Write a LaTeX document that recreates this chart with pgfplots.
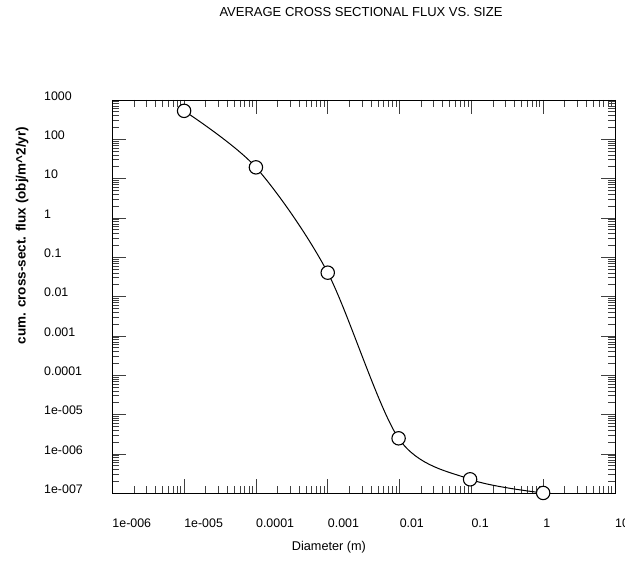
\documentclass[border=0pt]{standalone}
\usepackage{pgfplots}
\pgfplotsset{compat=1.18}
\usepackage{fontspec}
\setmainfont{Liberation Sans}
\begin{document}
\begin{tikzpicture}
\begin{axis}[
  scale only axis, width=502.7pt, height=393.3pt,
  xmode=log, ymode=log,
  xmin=1e-6, xmax=10, ymin=1e-7, ymax=1000,
  clip=false,
  axis line style={black, line width=0.9pt},
  tick style={black!75, line width=0.8pt},
  tick align=inside,
  xtick pos=both, ytick pos=both,
  xticklabel pos=lower, yticklabel pos=left,
  major tick length=14pt, minor tick length=7pt,
  xtick={1e-6,1e-5,1e-4,1e-3,1e-2,1e-1,1,10},
  xticklabels={1e-006,1e-005,0.0001,0.001,0.01,0.1,1,10},
  ytick={1e-7,1e-6,1e-5,1e-4,1e-3,1e-2,1e-1,1,10,100,1000},
  yticklabels={1e-007,1e-006,1e-005,0.0001,0.001,0.01,0.1,1,10,100,1000},
  minor xtick={2e-6,3e-6,4e-6,5e-6,6e-6,7e-6,8e-6,9e-6,
    2e-5,3e-5,4e-5,5e-5,6e-5,7e-5,8e-5,9e-5,
    2e-4,3e-4,4e-4,5e-4,6e-4,7e-4,8e-4,9e-4,
    2e-3,3e-3,4e-3,5e-3,6e-3,7e-3,8e-3,9e-3,
    0.02,0.03,0.04,0.05,0.06,0.07,0.08,0.09,
    0.2,0.3,0.4,0.5,0.6,0.7,0.8,0.9,
    2,3,4,5,6,7,8,9},
  minor ytick={2e-7,3e-7,4e-7,5e-7,6e-7,7e-7,8e-7,9e-7,
    2e-6,3e-6,4e-6,5e-6,6e-6,7e-6,8e-6,9e-6,
    2e-5,3e-5,4e-5,5e-5,6e-5,7e-5,8e-5,9e-5,
    2e-4,3e-4,4e-4,5e-4,6e-4,7e-4,8e-4,9e-4,
    2e-3,3e-3,4e-3,5e-3,6e-3,7e-3,8e-3,9e-3,
    0.02,0.03,0.04,0.05,0.06,0.07,0.08,0.09,
    0.2,0.3,0.4,0.5,0.6,0.7,0.8,0.9,
    2,3,4,5,6,7,8,9,
    20,30,40,50,60,70,80,90,
    200,300,400,500,600,700,800,900},
  xticklabel style={anchor=north west, inner sep=0pt, yshift=-25pt, font=\fontsize{12.4}{14}\selectfont},
  yticklabel style={anchor=west, inner sep=0pt, xshift=-68.3pt, yshift=4pt, font=\fontsize{12.4}{14}\selectfont},
  title={AVERAGE CROSS SECTIONAL FLUX VS. SIZE},
  title style={at={(axis description cs:0.4947,1.2085)}, anchor=center, inner sep=0pt, font=\fontsize{13}{15}\selectfont},
  xlabel={Diameter (m)},
  xlabel style={at={(axis description cs:0.431,-0.1365)}, anchor=center, inner sep=0pt, font=\fontsize{12.7}{15}\selectfont},
  ylabel={cum. cross-sect. flux (obj/m\textasciicircum 2/yr)},
  ylabel style={at={(axis description cs:-0.1796,0.655)}, anchor=center, inner sep=0pt, font=\bfseries\fontsize{13.5}{16}\selectfont},
]
\addplot[black, line width=1pt, smooth, mark=*, mark size=6.7pt,
  mark options={fill=white, draw=black, line width=1.1pt, solid}]
  coordinates {
  (1e-5, 530)
  (1e-4, 19.4)
  (1e-3, 0.0407)
  (0.0097, 2.5e-6)
  (0.096, 2.27e-7)
  (1, 1.02e-7)
};
\end{axis}
\pgfresetboundingbox
\path[use as bounding box] (-112.3pt,-68.7pt) rectangle (512.7pt,493.3pt);
\end{tikzpicture}
\end{document}
